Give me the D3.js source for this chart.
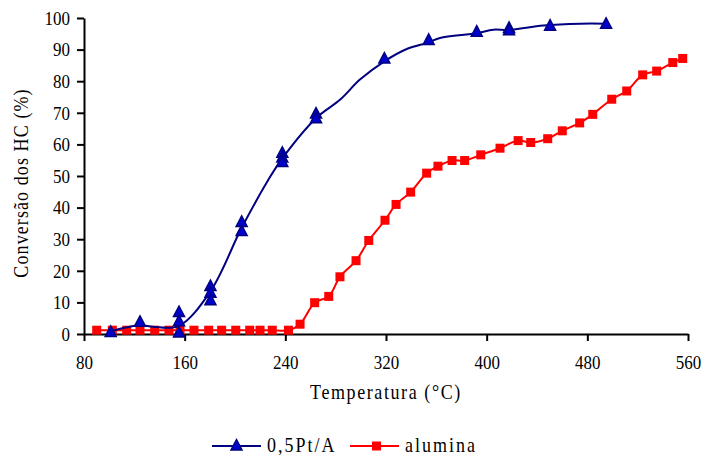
<!DOCTYPE html>
<html>
<head>
<meta charset="utf-8">
<script src="https://cdn.jsdelivr.net/npm/d3@7"></script>
<style>
  html, body { margin: 0; padding: 0; background: #fff; }
  svg { display: block; }
  text { font-family: "Liberation Serif", "Times New Roman", serif; fill: #000; }
</style>
</head>
<body>
<script>
// ---- data ----
const xTicks = [80, 160, 240, 320, 400, 480, 560];
const yTicks = [0, 10, 20, 30, 40, 50, 60, 70, 80, 90, 100];
const seriesNames = ["0,5Pt/A", "alumina"];

// 0,5Pt/A measured points (temperature, conversion)
const ptTemp = [101.2, 124.5, 155.5, 155.5, 155.5, 180.5, 180.5, 180.5, 205.3, 205.3,
                237.6, 237.6, 237.6, 264.4, 264.4, 318.7, 353.9, 392.1, 417.8, 417.8, 450.4, 494.9];
const ptConv = [0.5, 3.7, 6.8, 3.9, 0.3, 15.0, 12.9, 10.5, 35.3, 32.4,
                57.2, 55.7, 54.3, 69.6, 68.1, 87.0, 92.9, 95.5, 96.7, 96.0, 97.4, 98.0];

// 0,5Pt/A trend line
const ptLineTemp = [100.7, 124.5, 135, 155.5, 180.5, 205.3, 226.5, 237.6, 264.4, 283.4, 299.3,
                    318.7, 336.5, 353.9, 362.9, 392.1, 405.3, 417.8, 445, 474.2, 494.9];
const ptLineConv = [0.9, 2.8, 2.3, 2.6, 13.5, 33.6, 48.8, 55.6, 68.3, 74.1, 80.5,
                    86.3, 90.2, 92.3, 93.7, 95.2, 96.3, 96.2, 97.6, 98.2, 98.2];

// alumina
const alTemp = [90.1, 102.5, 113.9, 124.5, 136.2, 147.5, 156.3, 167.4, 179.1, 189.4, 200.6,
                211.7, 219.9, 229.6, 242.5, 251.7, 263.3, 274.5, 283.4, 296.2, 306.3, 319.2,
                328.0, 339.6, 352.3, 361.3, 372.5, 382.5, 395.3, 410.6, 425.0, 435.0, 448.5,
                460.1, 473.9, 484.3, 499.4, 511.3, 524.0, 535.1, 547.9, 555.8];
const alConv = [1.2, 1.2, 1.2, 1.2, 1.2, 1.2, 1.2, 1.2, 1.2, 1.2, 1.2,
                1.2, 1.2, 1.2, 1.2, 3.1, 9.9, 11.9, 18.1, 23.2, 29.6, 36.0,
                41.0, 44.9, 50.9, 53.1, 54.9, 54.9, 56.7, 58.8, 61.2, 60.6, 61.8,
                64.3, 66.8, 69.5, 74.3, 76.9, 82.0, 83.2, 85.9, 87.2];

const W = 704, H = 455;
const SY = 1.15; // vertical stretch of the text, as in the reference
const svg = d3.select("body").append("svg").attr("width", W).attr("height", H);

const x = d3.scaleLinear().domain([80, 560]).range([84, 688]);
const y = d3.scaleLinear().domain([0, 100]).range([334, 18]);

const navy = "#000080", blueFill = "#0000D0", red = "#FF0000";

// axes
const yAxis = d3.axisLeft(y).tickValues(yTicks).tickSize(7).tickSizeOuter(0).tickPadding(7);
const xAxis = d3.axisBottom(x).tickValues(xTicks).tickSize(7).tickSizeOuter(0).tickPadding(11);

const gy = svg.append("g").attr("transform", "translate(84,0)").call(yAxis);
const gx = svg.append("g").attr("transform", "translate(0,334)").call(xAxis);
[gx, gy].forEach(g => {
  g.select(".domain").attr("stroke", "#000").attr("stroke-width", 2);
  g.selectAll(".tick line").attr("stroke", "#000").attr("stroke-width", 2);
  g.selectAll(".tick text").style("font-family", "'Liberation Serif', serif")
    .style("font-size", "17px").attr("fill", "#000")
    .attr("transform", `scale(1,${SY})`);
});

// stretched text helper
function sText(px, py, str, opts) {
  const g = svg.append("g").attr("transform", `translate(${px},${py})${opts.rot ? " rotate(-90)" : ""} scale(1,${SY})`);
  return g.append("text").attr("x", 0).attr("y", 0)
    .attr("text-anchor", opts.anchor || "start")
    .style("font-size", opts.size + "px")
    .style("letter-spacing", (opts.ls || 0) + "px")
    .text(str);
}

// titles
sText(386, 399, "Temperatura (°C)", {anchor: "middle", size: 18, ls: 1.6});
sText(28, 183, "Conversão dos HC (%)", {anchor: "middle", size: 18, ls: 1.1, rot: true});

// lines
const line = d3.line().x(d => x(d[0])).y(d => y(d[1])).curve(d3.curveCatmullRom.alpha(0.5));
const alData = alTemp.map((t, i) => [t, alConv[i]]);
const ptLine = ptLineTemp.map((t, i) => [t, ptLineConv[i]]);
const ptPts = ptTemp.map((t, i) => [t, ptConv[i]]);

const tri = "M0,-6.5L5.5,4L-5.5,4Z";

svg.append("path").datum(alData).attr("d", line).attr("fill", "none")
  .attr("stroke", red).attr("stroke-width", 2);
svg.selectAll(".sq").data(alData).enter().append("rect")
  .attr("x", d => x(d[0]) - 4.5).attr("y", d => y(d[1]) - 4.5)
  .attr("width", 9).attr("height", 9).attr("fill", red);

svg.append("path").datum(ptLine).attr("d", line).attr("fill", "none")
  .attr("stroke", navy).attr("stroke-width", 2);
svg.selectAll(".tri").data(ptPts).enter().append("path")
  .attr("d", tri).attr("transform", d => `translate(${x(d[0])},${y(d[1])})`)
  .attr("fill", blueFill).attr("stroke", navy).attr("stroke-width", 1.5);

// legend
const leg = svg.append("g");
leg.append("line").attr("x1", 212).attr("x2", 261).attr("y1", 446).attr("y2", 446)
  .attr("stroke", navy).attr("stroke-width", 2);
leg.append("path").attr("d", tri).attr("transform", "translate(236.5,446)")
  .attr("fill", blueFill).attr("stroke", navy).attr("stroke-width", 1.5);
sText(267, 452, seriesNames[0], {size: 18, ls: 2});
leg.append("line").attr("x1", 350).attr("x2", 399).attr("y1", 446).attr("y2", 446)
  .attr("stroke", red).attr("stroke-width", 2);
leg.append("rect").attr("x", 372).attr("y", 441.5).attr("width", 9).attr("height", 9).attr("fill", red);
sText(405, 452, seriesNames[1], {size: 18, ls: 2});
</script>
</body>
</html>
